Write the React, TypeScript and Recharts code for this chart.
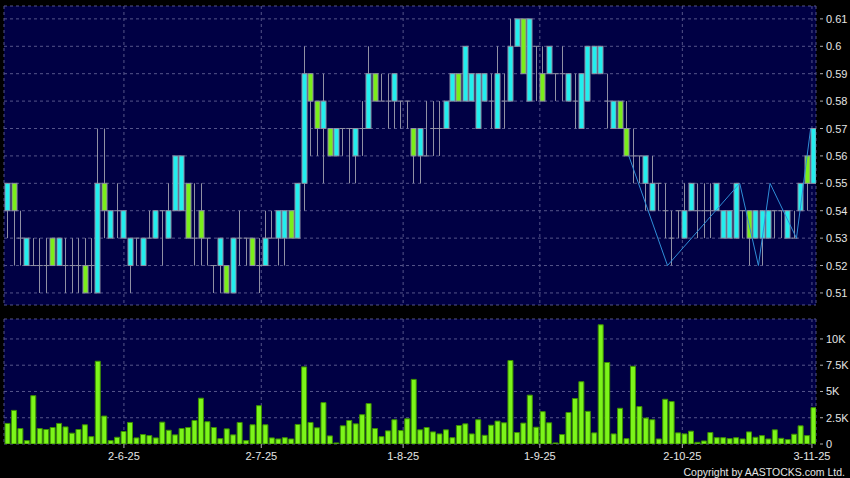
import { Bar, CartesianGrid, ComposedChart, Line, XAxis, YAxis } from 'recharts'

// daily candles, oldest first
const opens = [
  0.54, 0.55, 0.53, 0.52, 0.52, 0.52, 0.52, 0.53, 0.52, 0.52, 0.52, 0.52, 0.52, 0.52, 0.51, 0.55, 0.53, 0.54, 0.53, 0.52,
  0.53, 0.52, 0.53, 0.53, 0.54, 0.53, 0.54, 0.54, 0.55, 0.53, 0.54, 0.53, 0.52, 0.52, 0.52, 0.51, 0.53, 0.53, 0.53, 0.52,
  0.52, 0.53, 0.53, 0.53, 0.54, 0.53, 0.55, 0.59, 0.58, 0.57, 0.57, 0.56, 0.57, 0.57, 0.56, 0.57, 0.57, 0.59, 0.58, 0.58,
  0.58, 0.58, 0.58, 0.57, 0.56, 0.56, 0.57, 0.57, 0.57, 0.58, 0.59, 0.58, 0.58, 0.57, 0.58, 0.58, 0.57, 0.58, 0.58, 0.6,
  0.61, 0.58, 0.6, 0.59, 0.59, 0.59, 0.59, 0.58, 0.58, 0.57, 0.58, 0.59, 0.59, 0.58, 0.57, 0.58, 0.57, 0.56, 0.56, 0.55,
  0.54, 0.55, 0.54, 0.53, 0.54, 0.53, 0.54, 0.54, 0.54, 0.54, 0.54, 0.53, 0.53, 0.53, 0.54, 0.54, 0.53, 0.53, 0.53, 0.54,
  0.54, 0.53, 0.53, 0.54, 0.56, 0.55,
]
const highs = [
  0.55, 0.55, 0.54, 0.53, 0.53, 0.53, 0.53, 0.53, 0.53, 0.53, 0.53, 0.53, 0.53, 0.53, 0.57, 0.57, 0.54, 0.55, 0.54, 0.53,
  0.53, 0.53, 0.54, 0.54, 0.54, 0.55, 0.56, 0.56, 0.55, 0.55, 0.55, 0.53, 0.52, 0.53, 0.52, 0.53, 0.54, 0.53, 0.53, 0.53,
  0.54, 0.54, 0.54, 0.54, 0.54, 0.55, 0.6, 0.59, 0.58, 0.59, 0.57, 0.57, 0.57, 0.57, 0.57, 0.58, 0.6, 0.59, 0.59, 0.59,
  0.59, 0.58, 0.58, 0.57, 0.57, 0.58, 0.58, 0.58, 0.58, 0.59, 0.59, 0.6, 0.59, 0.59, 0.59, 0.59, 0.6, 0.59, 0.61, 0.61,
  0.61, 0.61, 0.6, 0.6, 0.6, 0.59, 0.6, 0.59, 0.59, 0.59, 0.6, 0.6, 0.6, 0.59, 0.58, 0.58, 0.58, 0.57, 0.56, 0.56,
  0.56, 0.55, 0.55, 0.54, 0.54, 0.55, 0.55, 0.55, 0.55, 0.55, 0.55, 0.54, 0.54, 0.55, 0.54, 0.54, 0.54, 0.54, 0.54, 0.54,
  0.54, 0.54, 0.54, 0.55, 0.56, 0.57,
]
const lows = [
  0.53, 0.52, 0.52, 0.52, 0.52, 0.51, 0.51, 0.52, 0.52, 0.51, 0.51, 0.51, 0.51, 0.51, 0.51, 0.53, 0.53, 0.53, 0.53, 0.51,
  0.52, 0.52, 0.53, 0.53, 0.52, 0.53, 0.54, 0.54, 0.53, 0.52, 0.52, 0.52, 0.51, 0.51, 0.51, 0.51, 0.52, 0.52, 0.52, 0.51,
  0.52, 0.53, 0.52, 0.52, 0.53, 0.53, 0.54, 0.56, 0.56, 0.55, 0.56, 0.56, 0.56, 0.55, 0.55, 0.56, 0.57, 0.58, 0.58, 0.57,
  0.57, 0.57, 0.57, 0.55, 0.55, 0.56, 0.56, 0.56, 0.57, 0.58, 0.58, 0.58, 0.58, 0.57, 0.58, 0.57, 0.57, 0.57, 0.58, 0.6,
  0.59, 0.58, 0.58, 0.58, 0.59, 0.58, 0.58, 0.58, 0.57, 0.57, 0.58, 0.59, 0.59, 0.57, 0.57, 0.57, 0.56, 0.55, 0.55, 0.54,
  0.54, 0.54, 0.53, 0.52, 0.53, 0.53, 0.54, 0.53, 0.53, 0.53, 0.54, 0.53, 0.53, 0.53, 0.53, 0.52, 0.53, 0.52, 0.53, 0.53,
  0.53, 0.53, 0.53, 0.54, 0.54, 0.55,
]
const closes = [
  0.55, 0.54, 0.53, 0.53, 0.52, 0.52, 0.52, 0.52, 0.53, 0.52, 0.52, 0.52, 0.51, 0.52, 0.55, 0.54, 0.54, 0.54, 0.54, 0.53,
  0.53, 0.53, 0.53, 0.54, 0.54, 0.54, 0.56, 0.56, 0.53, 0.53, 0.53, 0.53, 0.52, 0.53, 0.51, 0.53, 0.53, 0.53, 0.52, 0.52,
  0.53, 0.53, 0.54, 0.54, 0.53, 0.55, 0.59, 0.58, 0.57, 0.58, 0.56, 0.57, 0.57, 0.57, 0.57, 0.57, 0.59, 0.58, 0.58, 0.58,
  0.59, 0.58, 0.58, 0.56, 0.57, 0.56, 0.57, 0.57, 0.58, 0.59, 0.58, 0.6, 0.59, 0.59, 0.59, 0.58, 0.59, 0.58, 0.6, 0.61,
  0.59, 0.61, 0.6, 0.58, 0.6, 0.59, 0.59, 0.59, 0.58, 0.59, 0.6, 0.6, 0.6, 0.58, 0.58, 0.57, 0.56, 0.56, 0.56, 0.56,
  0.55, 0.55, 0.54, 0.53, 0.54, 0.54, 0.55, 0.54, 0.54, 0.54, 0.55, 0.54, 0.54, 0.55, 0.54, 0.53, 0.54, 0.54, 0.54, 0.54,
  0.54, 0.54, 0.53, 0.55, 0.55, 0.57,
]
// turnover in thousands of shares
const volumes = [
  1.96, 3.2, 1.47, 0.32, 4.6, 1.47, 1.38, 1.57, 1.96, 1.63, 1.03, 1.38, 1.83, 0.7, 7.88, 2.66, 0.32, 0.64, 1.19, 2.05,
  0.58, 0.9, 0.8, 0.58, 2.08, 1.31, 0.87, 1.47, 1.57, 2.24, 4.36, 2.12, 1.57, 0.51, 1.44, 0.87, 2.05, 0.32, 1.83, 3.65,
  1.83, 0.58, 0.48, 0.6, 0.48, 1.86, 7.34, 2.05, 1.54, 3.94, 0.77, 0.1, 1.73, 2.24, 1.92, 2.79, 3.85, 1.47, 0.7, 1.25,
  2.31, 1.28, 2.4, 6.15, 1.35, 1.57, 1.15, 0.96, 1.35, 0.6, 1.76, 1.92, 0.96, 2.31, 0.83, 1.79, 2.18, 2.02, 7.95, 1.09,
  1.99, 4.65, 1.6, 3.08, 2.02, 0.1, 0.9, 3.0, 4.33, 5.93, 3.11, 1.06, 11.35, 7.76, 0.96, 3.4, 0.51, 7.4, 3.56, 2.47,
  2.31, 0.48, 4.26, 4.04, 1.06, 0.96, 1.22, 0.16, 0.29, 1.09, 0.6, 0.6, 0.51, 0.6, 0.48, 1.15, 0.64, 0.8, 0.48, 1.35,
  0.54, 0.42, 0.93, 1.73, 0.8, 3.46,
]

const dateTicks = [18.1, 39.4, 61.4, 82.6, 104.7, 124.8]
const dateLabels = ['2-6-25', '2-7-25', '1-8-25', '1-9-25', '2-10-25', '3-11-25']
const priceTicks = [0.51, 0.52, 0.53, 0.54, 0.55, 0.56, 0.57, 0.58, 0.59, 0.6, 0.61]
const volTicks = [0, 2.5, 5, 7.5, 10]
const volLabels = ['0', '2.5K', '5K', '7.5K', '10K']

// thin blue line drawn over the last weeks
const overlayAt = [96.4, 102.4, 113.6, 116.5, 118.3, 122.4, 124.6]
const overlayVal = [0.56, 0.52, 0.55, 0.52, 0.55, 0.53, 0.57]

const PANEL = '#000044'
const GRID = '#55558a'
const TEXT = '#e4e4e4'
const CYAN = '#22eeee'
const GREEN = '#7aee1a'
const EDGE = '#9090a4'
const CANDLE_W = 6
const X_DOMAIN = [-0.5, 125.43]

const rows = opens.map((o, i) => ({
  i,
  o,
  h: highs[i],
  l: lows[i],
  c: closes[i],
  range: [lows[i], highs[i]],
  v: volumes[i],
}))
const overlay = overlayAt.map((i, k) => ({ i, p: overlayVal[k] }))

function Candle(props: any) {
  const { x, y, width, height, index } = props
  const d = rows[index] ?? props.payload
  const { o, h, l, c } = d
  // bar may come with a negative height (drawn from the low end), normalise it
  const yTop = Math.min(y, y + height)
  const span = Math.abs(height)
  const k = h > l ? span / (h - l) : 0
  const yOf = (v: number) => yTop + (h - v) * k
  const cx = x + width / 2
  const mid = Math.round(cx) + 0.5
  const left = mid - CANDLE_W / 2
  const top = yOf(Math.max(o, c))
  const bot = yOf(Math.min(o, c))
  return (
    <g>
      <line x1={mid} x2={mid} y1={yTop} y2={yTop + span} stroke={EDGE} strokeWidth={1} />
      {o === c ? (
        <line x1={left} x2={left + CANDLE_W} y1={top} y2={top} stroke={EDGE} strokeWidth={1} />
      ) : (
        <rect
          x={left + 0.5}
          y={top}
          width={CANDLE_W - 1}
          height={bot - top}
          fill={c > o ? CYAN : GREEN}
          stroke={EDGE}
          strokeWidth={1}
        />
      )}
    </g>
  )
}

function RightTick({ x, y, payload, fmt }: any) {
  return (
    <g>
      <line x1={x - 6} x2={x - 3} y1={y} y2={y} stroke="#b0b0b0" />
      <text x={x} y={y} dy={4} fill={TEXT} fontSize={11}>
        {fmt(payload.value)}
      </text>
    </g>
  )
}

export default function App() {
  return (
    <div
      style={{
        position: 'relative',
        width: 850,
        height: 478,
        background: '#000',
        fontFamily: '"Liberation Sans", Arial, sans-serif',
      }}
    >
      <style>{'body{margin:0;background:#000}'}</style>
      <div style={{ position: 'absolute', left: 0, top: 0 }}>
        <ComposedChart width={850} height={310} data={rows} margin={{ top: 6, right: 0, bottom: 5, left: 4 }}>
          <CartesianGrid fill={PANEL} stroke={GRID} strokeDasharray="3 3" />
          <XAxis dataKey="i" type="number" domain={X_DOMAIN} ticks={dateTicks} interval={0} allowDataOverflow hide />
          <YAxis
            orientation="right"
            width={34}
            domain={[0.5056, 0.6147]}
            ticks={priceTicks}
            interval={0}
            allowDataOverflow
            axisLine={false}
            tickLine={false}
            tickSize={7}
            tickMargin={3}
            tick={<RightTick fmt={(v: number) => String(Number(v.toFixed(2)))} />}
          />
          <Bar dataKey="range" barSize={6} shape={(p: any) => <Candle {...p} />} isAnimationActive={false} />
          <Line data={overlay} dataKey="p" stroke="#2f8ed8" strokeWidth={1} dot={false} isAnimationActive={false} />
        </ComposedChart>
      </div>
      <div style={{ position: 'absolute', left: 0, top: 310 }}>
        <ComposedChart width={850} height={168} data={rows} margin={{ top: 9, right: 0, bottom: 4, left: 4 }}>
          <CartesianGrid fill={PANEL} stroke={GRID} strokeDasharray="3 3" />
          <XAxis
            dataKey="i"
            type="number"
            domain={X_DOMAIN}
            ticks={dateTicks}
            interval={0}
            allowDataOverflow
            height={30}
            axisLine={false}
            tickSize={4}
            tickMargin={4}
            tickLine={{ stroke: '#b0b0b0' }}
            tick={{ fill: TEXT, fontSize: 11 }}
            tickFormatter={(v: number) => dateLabels[dateTicks.indexOf(v)]}
          />
          <YAxis
            orientation="right"
            width={34}
            domain={[0, 11.9]}
            ticks={volTicks}
            interval={0}
            allowDataOverflow
            axisLine={false}
            tickLine={false}
            tickSize={7}
            tickMargin={3}
            tick={<RightTick fmt={(v: number) => volLabels[volTicks.indexOf(v)]} />}
          />
          <Bar dataKey="v" barSize={5} fill="#7cf51a" stroke="#3c8f00" isAnimationActive={false} />
        </ComposedChart>
      </div>
      <svg width={850} height={478} style={{ position: 'absolute', left: 0, top: 0, pointerEvents: 'none' }}>
        <text x={845} y={475.5} textAnchor="end" fill={TEXT} fontSize={10.5}>
          Copyright by AASTOCKS.com Ltd.
        </text>
      </svg>
    </div>
  )
}
